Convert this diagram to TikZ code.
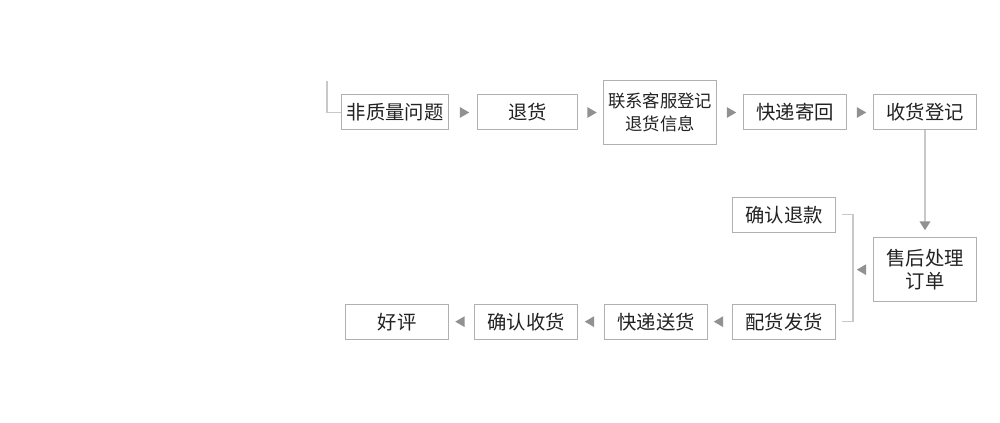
\documentclass[tikz,border=0pt]{standalone}
\usepackage{fontspec}
\setmainfont{Noto Sans CJK SC}
\usetikzlibrary{shapes,arrows.meta,positioning,calc}
\definecolor{boxgray}{RGB}{176,176,176}
\definecolor{linegray}{RGB}{200,200,200}
\definecolor{tipgray}{RGB}{145,145,145}
\definecolor{txtgray}{RGB}{34,34,34}
\tikzstyle{box} = [rectangle, draw=boxgray, line width=0.75pt, fill=white, text=txtgray, align=center, inner sep=1pt, minimum width=77.25pt, minimum height=26.25pt, font=\fontsize{14.5}{17.25}\selectfont]
\tikzstyle{tallbox} = [box, minimum height=48pt]
\tikzstyle{tri} = [isosceles triangle, isosceles triangle apex angle=60, fill=tipgray, draw=none, inner sep=0pt, minimum size=7pt]
\tikzstyle{tline} = [draw=linegray, line width=0.9pt]

\begin{document}
\begin{tikzpicture}[x=0.75pt, y=-0.75pt]
\useasboundingbox[fill=white] (0,0) rectangle (1000,423);

% top row =============================
\node[box, minimum width=80.25pt] (fzl) at (395,112.5) {非质量问题};
\node[box, minimum width=75pt, right=21pt of fzl] (th) {退货};
\node[tallbox, minimum width=84.75pt, right=18.75pt of th, font=\fontsize{13}{17.25}\selectfont] (lxkf) {联系客服登记\\退货信息};
\node[box, right=19.5pt of lxkf] (kdjh) {快递寄回};
\node[box, right=19.5pt of kdjh] (shdj) {收货登记};

% after-sale =============================
\node[tallbox, below=80pt of shdj] (shcl) {售后处理\\订单};
\node[box, left=27.75pt of shcl, yshift=41.25pt] (qrtk) {确认退款};
\node[box, below=53.25pt of qrtk] (phfh) {配货发货};
\node[box, left=18pt of phfh] (kdsh) {快递送货};
\node[box, left=19.5pt of kdsh] (qrsh) {确认收货};
\node[box, left=18.75pt of qrsh] (hp) {好评};

% edges =============================
\coordinate (start) at ([xshift=-10.5pt, yshift=23.25pt]fzl.west);
\path[tline] (start) |- (fzl.west);
\path (fzl) -- node[tri] {} (th);
\path (th) -- node[tri] {} (lxkf);
\path (lxkf) -- node[tri] {} (kdjh);
\path (kdjh) -- node[tri] {} (shdj);
\path[tline, -{Triangle[width=8pt, length=6.5pt, color=tipgray]}, shorten >=5.25pt] (shdj) -- (shcl);

\coordinate (bt) at ([xshift=12.75pt]qrtk.east);
\coordinate (bb) at (bt |- phfh.east);
\path[tline] ([xshift=4.5pt]qrtk.east) -- (bt) -- (bb) -- ([xshift=4.5pt]phfh.east);
\path (shcl.west) -- node[tri, shape border rotate=180] {} (bt |- shcl.west);

\path (phfh) -- node[tri, shape border rotate=180] {} (kdsh);
\path (kdsh) -- node[tri, shape border rotate=180] {} (qrsh);
\path (qrsh) -- node[tri, shape border rotate=180] {} (hp);

\end{tikzpicture}
\end{document}
